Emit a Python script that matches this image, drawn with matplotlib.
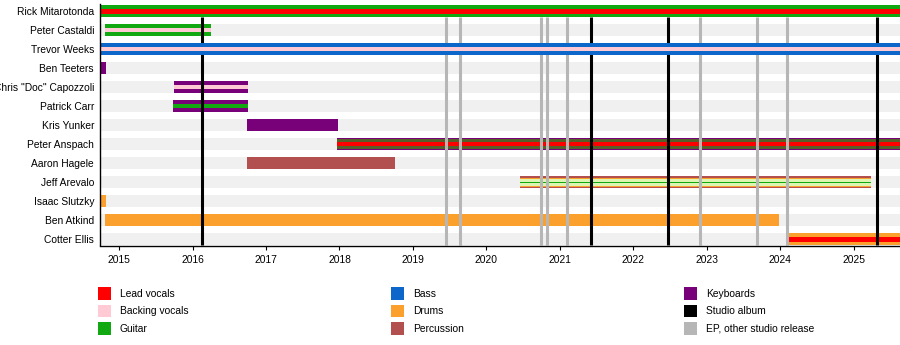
import matplotlib
matplotlib.use("Agg")
import matplotlib.pyplot as plt
from matplotlib.patches import Rectangle

plt.rcParams['font.family'] = ['Liberation Sans', 'DejaVu Sans']

# members, top to bottom
members = ["Rick Mitarotonda", "Peter Castaldi", "Trevor Weeks", "Ben Teeters",
           'Chris "Doc" Capozzoli', "Patrick Carr", "Kris Yunker", "Peter Anspach",
           "Aaron Hagele", "Jeff Arevalo", "Isaac Slutzky", "Ben Atkind", "Cotter Ellis"]

start = 2014.74
end = 2025.63

# tenure (decimal years)
tenure_from = [2014.74, 2014.805, 2014.74, 2014.74, 2015.745, 2015.73, 2016.738,
               2017.963, 2016.738, 2020.454, 2014.74, 2014.805, 2024.088]
tenure_to = [2025.63, 2016.248, 2025.63, 2014.82, 2016.752, 2016.752, 2017.977,
             2025.63, 2018.752, 2025.23, 2014.82, 2023.98, 2025.63]

# role layers per member: (role, relative bar width), outer first
roles = [
    [("Guitar", 1.0), ("Lead vocals", 0.38)],
    [("Guitar", 1.0), ("Backing vocals", 0.35)],
    [("Bass", 1.0), ("Backing vocals", 0.35)],
    [("Keyboards", 1.0)],
    [("Keyboards", 1.0), ("Backing vocals", 0.35)],
    [("Keyboards", 1.0), ("Guitar", 0.35)],
    [("Keyboards", 1.0)],
    [("Keyboards", 1.0), ("Olive", 0.8), ("Lead vocals", 0.35)],
    [("Percussion", 1.0)],
    [("Percussion", 1.0), ("Drums", 0.72), ("Pale", 0.58), ("Guitar", 0.1)],
    [("Drums", 1.0)],
    [("Drums", 1.0)],
    [("Drums", 1.0), ("Lead vocals", 0.42)],
]

colors = {
    "Lead vocals": "#ff0000",
    "Backing vocals": "#ffcad3",
    "Guitar": "#12a812",
    "Bass": "#0d66c9",
    "Drums": "#fba02c",
    "Percussion": "#b24f4f",
    "Keyboards": "#780078",
    "Studio album": "#000000",
    "EP, other studio release": "#b6b6b6",
    "Olive": "#55602a",
    "Pale": "#dcf5b0",
}

studio_albums = [2016.126, 2021.42, 2022.467, 2025.313]
eps = [2019.446, 2019.637, 2020.74, 2020.82, 2021.094, 2022.902, 2023.678, 2024.088]

years = list(range(2015, 2026))

legend_cols = [["Lead vocals", "Backing vocals", "Guitar"],
               ["Bass", "Drums", "Percussion"],
               ["Keyboards", "Studio album", "EP, other studio release"]]

W, H = 900, 345
fig = plt.figure(figsize=(W / 100, H / 100), dpi=100)
ax = fig.add_axes([100 / W, 1 - 245.5 / H, 800 / W, 241.3 / H])

bar_h = 0.63
rows = list(range(len(members)))
y_bot = len(members) - 1 + 0.33

# grey row stripes
ax.barh(rows, end - start, left=start, height=bar_h, color="#f0f0f0", zorder=1)

# release lines, from below the first row down to the axis
ax.vlines(eps, bar_h / 2, y_bot, color=colors["EP, other studio release"], lw=2.2, zorder=3)
ax.vlines(studio_albums, bar_h / 2, y_bot, color=colors["Studio album"], lw=2.2, zorder=3)

for i, name in enumerate(members):
    z = 5 if name in ("Rick Mitarotonda", "Trevor Weeks") else 2
    for k, (role, frac) in enumerate(roles[i]):
        ax.barh(i, tenure_to[i] - tenure_from[i], left=tenure_from[i],
                height=bar_h * frac, color=colors[role], zorder=z + k * 0.01,
                linewidth=0)

ax.set_xlim(start, end)
ax.set_ylim(y_bot, -0.37)
ax.set_yticks(rows)
ax.set_yticklabels(members, fontsize=7.4)
ax.tick_params(axis="y", length=0, pad=4.3)
ax.set_xticks(years)
ax.set_xticklabels([str(y) for y in years], fontsize=7.4)
ax.tick_params(axis="x", length=3, width=0.8, pad=3.5)
for s in ("top", "right"):
    ax.spines[s].set_visible(False)
for s in ("left", "bottom"):
    ax.spines[s].set_linewidth(1.0)
    ax.spines[s].set_zorder(6)

# legend
col_x = [98, 391, 684]
row_y = [293.7, 311.2, 328.7]
sw = 12.5
for cx, labels in zip(col_x, legend_cols):
    for ry, lab in zip(row_y, labels):
        fig.add_artist(Rectangle((cx / W, 1 - (ry + sw / 2) / H), sw / W, sw / H,
                                 transform=fig.transFigure, color=colors[lab], lw=0))
        fig.text((cx + 22) / W, 1 - ry / H, lab, fontsize=7.4, va="center", ha="left")

fig.savefig("out.png", dpi=100)
